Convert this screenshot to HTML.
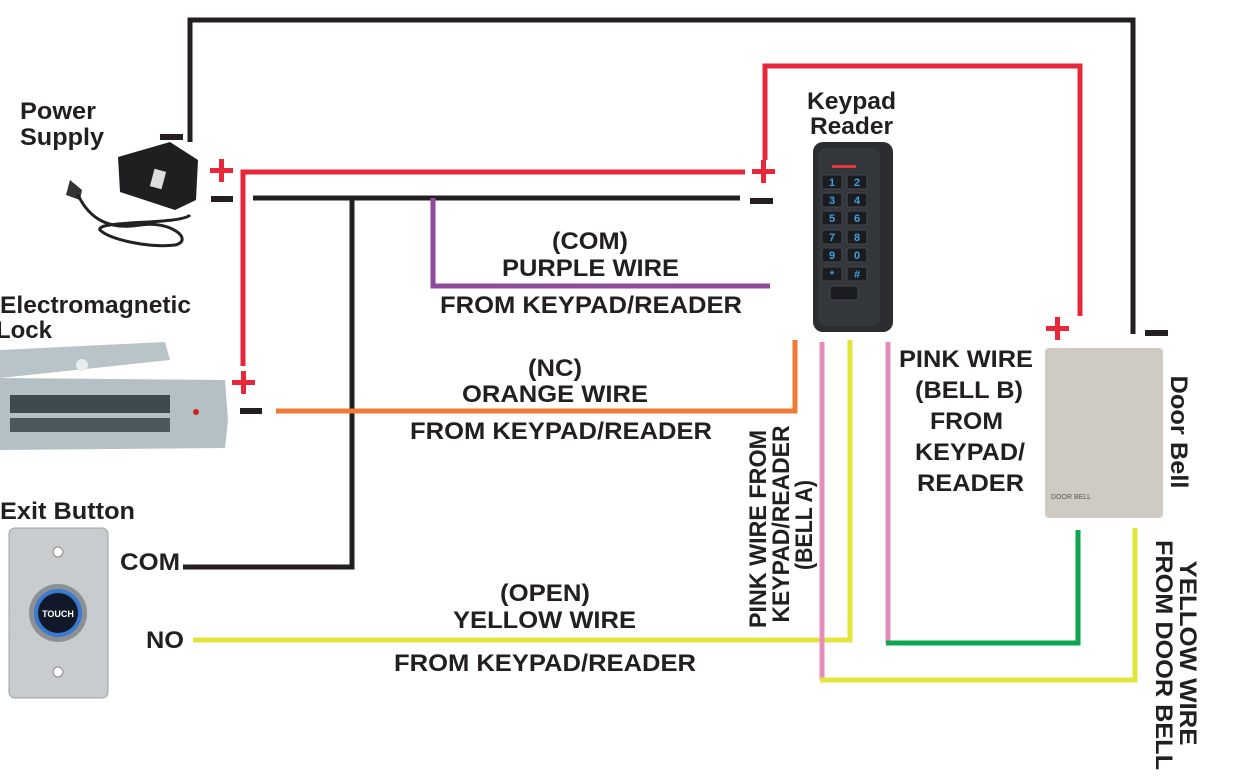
<!DOCTYPE html>
<html><head><meta charset="utf-8"><style>
html,body{margin:0;padding:0;background:#fff;}
svg{display:block;}
text{font-family:"Liberation Sans",Arial,sans-serif;font-weight:bold;fill:#231f20;}
</style></head><body>
<svg width="1237" height="776" viewBox="0 0 1237 776" xmlns="http://www.w3.org/2000/svg">
<g fill="none" stroke-width="5" stroke-linejoin="miter" stroke-linecap="butt">
 <polyline stroke="#231f20" points="190,142 190,20 1133,20 1133,334"/>
 <polyline stroke="#e8283a" points="745,172 243,172 243,366"/>
 <polyline stroke="#e8283a" points="765,160 765,66 1080,66 1080,316"/>
 <line stroke="#231f20" x1="253" y1="198" x2="740" y2="198"/>
 <polyline stroke="#231f20" points="352,198 352,567 183,567"/>
 <polyline stroke="#8e4a9c" points="433,198 433,286 770,286"/>
 <polyline stroke="#ee7a36" points="276,411 795,411 795,340"/>
 <polyline stroke="#e2e63a" points="193,640 850,640 850,340"/>
 <polyline stroke="#e48dbd" points="822,342 822,680"/>
 <polyline stroke="#e2e63a" points="820,680 1135,680 1135,528"/>
 <polyline stroke="#e48dbd" points="888,342 888,643"/>
 <polyline stroke="#0ea54f" points="886,643 1078,643 1078,530"/>
</g>
<g fill="#231f20">
 <rect x="160" y="134" width="23" height="6"/>
 <rect x="211" y="196" width="22" height="6"/>
 <rect x="750" y="198" width="23" height="6"/>
 <rect x="240" y="408" width="22" height="6"/>
 <rect x="1145" y="330" width="23" height="6"/>
</g>
<g fill="#e8283a">
 <rect x="210" y="168" width="23" height="5"/><rect x="219" y="159" width="5" height="23"/>
 <rect x="752" y="169" width="23" height="5"/><rect x="761" y="160" width="5" height="23"/>
 <rect x="232" y="380" width="23" height="5"/><rect x="241" y="371" width="5" height="23"/>
 <rect x="1046" y="326" width="23" height="5"/><rect x="1055" y="317" width="5" height="23"/>
</g>
<!-- power supply -->
<g>
 <path d="M118,157 L170,142 L198,160 L196,200 L175,210 L120,192 Z" fill="#1f1f21"/>
 <rect x="152" y="170" width="12" height="18" fill="#ddd" transform="rotate(15 158 179)"/>
 <path d="M82,190 L70,180 L66,195 L80,200 Z" fill="#333"/>
 <path d="M78,195 C90,220 110,230 140,225 C170,220 195,240 175,245 C150,248 110,240 100,230 C95,220 180,225 190,215" stroke="#222" stroke-width="3" fill="none"/>
</g>
<!-- lock -->
<g>
 <path d="M0,350 L165,342 L170,360 L0,378 Z" fill="#b9c4c8"/>
 <path d="M0,378 L225,380 L228,420 L225,448 L0,450 Z" fill="#b5c0c5"/>
 <rect x="10" y="395" width="160" height="18" fill="#3d4a4f"/>
 <rect x="10" y="418" width="160" height="14" fill="#4c585c"/>
 <circle cx="82" cy="365" r="6" fill="#e7ecee"/>
 <circle cx="196" cy="412" r="3" fill="#d02020"/>
</g>
<!-- keypad -->
<g>
 <rect x="813" y="142" width="80" height="190" rx="10" fill="#2b2d31"/>
 <rect x="818" y="148" width="62" height="178" rx="8" fill="#33363b"/>
 <rect x="832" y="165" width="24" height="3" fill="#e23a3a"/>
 <g fill="#1b1c1f" stroke="#44484f" stroke-width="1">
  <rect x="822" y="175" width="20" height="14" rx="2"/><rect x="847" y="175" width="20" height="14" rx="2"/>
  <rect x="822" y="193" width="20" height="14" rx="2"/><rect x="847" y="193" width="20" height="14" rx="2"/>
  <rect x="822" y="211" width="20" height="14" rx="2"/><rect x="847" y="211" width="20" height="14" rx="2"/>
  <rect x="822" y="230" width="20" height="14" rx="2"/><rect x="847" y="230" width="20" height="14" rx="2"/>
  <rect x="822" y="248" width="20" height="14" rx="2"/><rect x="847" y="248" width="20" height="14" rx="2"/>
  <rect x="822" y="267" width="20" height="14" rx="2"/><rect x="847" y="267" width="20" height="14" rx="2"/>
  <rect x="830" y="286" width="28" height="14" rx="2"/>
 </g>
 <g style="font-size:11px" text-anchor="middle">
  <text x="832" y="186" style="fill:#3fa0e0">1</text><text x="857" y="186" style="fill:#3fa0e0">2</text>
  <text x="832" y="204" style="fill:#3fa0e0">3</text><text x="857" y="204" style="fill:#3fa0e0">4</text>
  <text x="832" y="222" style="fill:#3fa0e0">5</text><text x="857" y="222" style="fill:#3fa0e0">6</text>
  <text x="832" y="241" style="fill:#3fa0e0">7</text><text x="857" y="241" style="fill:#3fa0e0">8</text>
  <text x="832" y="259" style="fill:#3fa0e0">9</text><text x="857" y="259" style="fill:#3fa0e0">0</text>
  <text x="832" y="278" style="fill:#3fa0e0">*</text><text x="857" y="278" style="fill:#3fa0e0">#</text>
 </g>
</g>
<!-- door bell -->
<g>
 <rect x="1045" y="348" width="118" height="170" rx="4" fill="#cfcbc2"/>
 <text x="1051" y="499" style="font-size:7px;font-weight:normal;fill:#555">DOOR BELL</text>
</g>
<!-- exit button -->
<g>
 <rect x="9" y="528" width="99" height="170" rx="6" fill="#c9ccce" stroke="#9ea2a5"/>
 <circle cx="58" cy="552" r="5" fill="#fff" stroke="#888"/>
 <circle cx="58" cy="672" r="5" fill="#fff" stroke="#888"/>
 <circle cx="58" cy="613" r="29" fill="#8b9094"/>
 <circle cx="58" cy="613" r="24" fill="#3a7ad0"/>
 <circle cx="58" cy="613" r="20" fill="#11182a"/>
 <text x="58" y="617" text-anchor="middle" style="font-size:9px;fill:#fff">TOUCH</text>
</g>
<g style="font-size:24px" lengthAdjust="spacingAndGlyphs">
 <text x="20" y="119" textLength="76" lengthAdjust="spacingAndGlyphs">Power</text>
 <text x="20" y="145" textLength="84" lengthAdjust="spacingAndGlyphs">Supply</text>
 <text x="0" y="313" textLength="191" lengthAdjust="spacingAndGlyphs">Electromagnetic</text>
 <text x="-4" y="338" textLength="56" lengthAdjust="spacingAndGlyphs">Lock</text>
 <text x="0" y="519" textLength="135" lengthAdjust="spacingAndGlyphs">Exit Button</text>
 <text x="807" y="109" textLength="89" lengthAdjust="spacingAndGlyphs">Keypad</text>
 <text x="810" y="134" textLength="83" lengthAdjust="spacingAndGlyphs">Reader</text>
 <text x="120" y="570" textLength="60" lengthAdjust="spacingAndGlyphs">COM</text>
 <text x="146" y="648" textLength="38" lengthAdjust="spacingAndGlyphs">NO</text>
</g>
<g style="font-size:24px">
 <text x="552" y="249" textLength="76" lengthAdjust="spacingAndGlyphs">(COM)</text>
 <text x="502" y="276" textLength="177" lengthAdjust="spacingAndGlyphs">PURPLE WIRE</text>
 <text x="440" y="313" textLength="302" lengthAdjust="spacingAndGlyphs">FROM KEYPAD/READER</text>
 <text x="528" y="376" textLength="54" lengthAdjust="spacingAndGlyphs">(NC)</text>
 <text x="462" y="402" textLength="186" lengthAdjust="spacingAndGlyphs">ORANGE WIRE</text>
 <text x="410" y="439" textLength="302" lengthAdjust="spacingAndGlyphs">FROM KEYPAD/READER</text>
 <text x="500" y="601" textLength="90" lengthAdjust="spacingAndGlyphs">(OPEN)</text>
 <text x="453" y="628" textLength="183" lengthAdjust="spacingAndGlyphs">YELLOW WIRE</text>
 <text x="394" y="671" textLength="302" lengthAdjust="spacingAndGlyphs">FROM KEYPAD/READER</text>
 <text x="899" y="367" textLength="134" lengthAdjust="spacingAndGlyphs">PINK WIRE</text>
 <text x="915" y="398" textLength="108" lengthAdjust="spacingAndGlyphs">(BELL B)</text>
 <text x="930" y="429" textLength="73" lengthAdjust="spacingAndGlyphs">FROM</text>
 <text x="915" y="460" textLength="110" lengthAdjust="spacingAndGlyphs">KEYPAD/</text>
 <text x="917" y="491" textLength="107" lengthAdjust="spacingAndGlyphs">READER</text>
</g>
<g style="font-size:24px" text-anchor="middle">
 <text transform="translate(766,529) rotate(-90)" textLength="198" lengthAdjust="spacingAndGlyphs">PINK WIRE  FROM</text>
 <text transform="translate(789,524) rotate(-90)" textLength="197" lengthAdjust="spacingAndGlyphs">KEYPAD/READER</text>
 <text transform="translate(812,525) rotate(-90)" textLength="90" lengthAdjust="spacingAndGlyphs">(BELL A)</text>
 <text transform="translate(1171,432) rotate(90)" textLength="113" lengthAdjust="spacingAndGlyphs">Door Bell</text>
 <text transform="translate(1180,653) rotate(90)" textLength="185" lengthAdjust="spacingAndGlyphs">YELLOW WIRE</text>
 <text transform="translate(1156,655) rotate(90)" textLength="230" lengthAdjust="spacingAndGlyphs">FROM DOOR BELL</text>
</g>
</svg>
</body></html>
